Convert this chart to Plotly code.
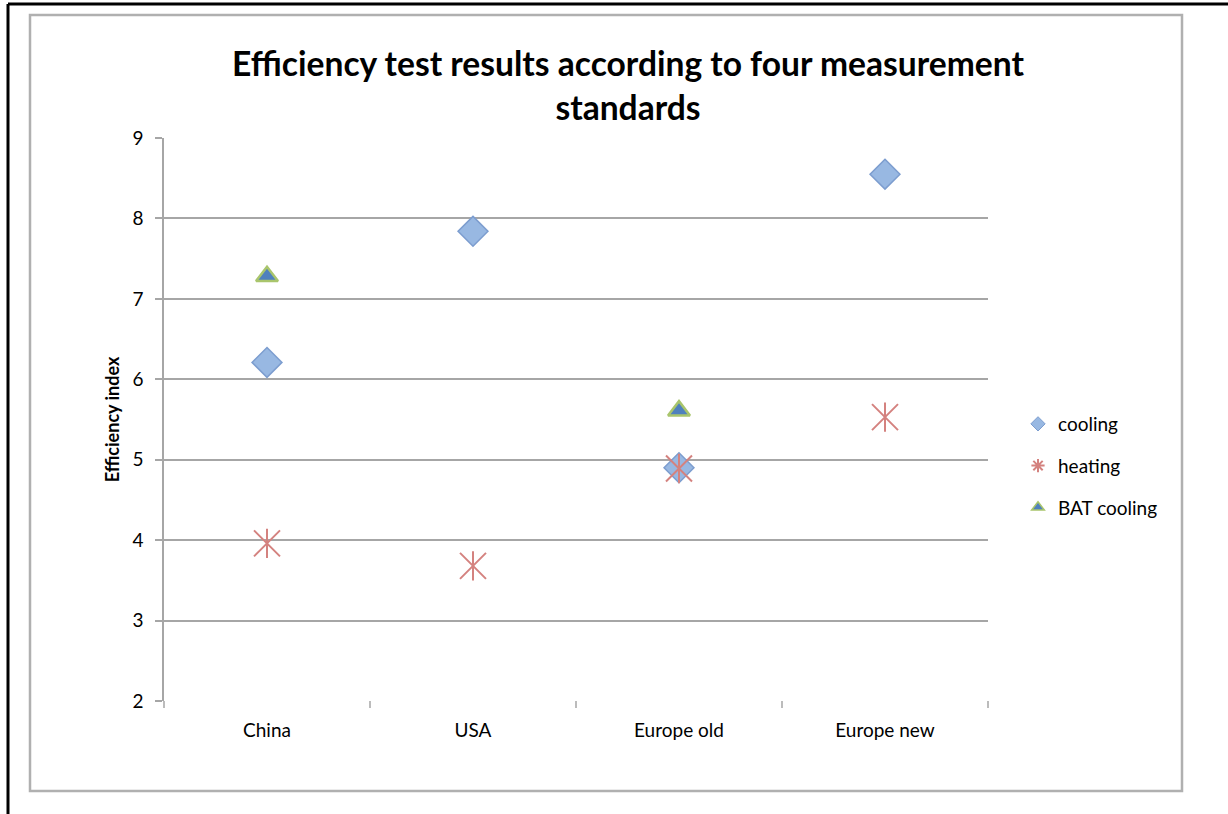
import plotly.graph_objects as go

categories = ["China", "USA", "Europe old", "Europe new"]
cooling = [6.21, 7.84, 4.90, 8.55]
heating = [3.96, 3.68, 4.89, 5.53]
bat_cooling = [7.28, None, 5.61, None]
y_ticks = [2, 3, 4, 5, 6, 7, 8, 9]

W, H = 1228, 814
L, R, T, B = 164, 988, 138, 701
FONT = "Lato"

COOL_FILL, COOL_LINE = "#98b8e2", "#7c9dcf"
HEAT_LINE = "#d4827f"
BAT_FILL, BAT_LINE = "#4f81bd", "#a9c56c"

def px(x):
    return (x - L) / (R - L)

def py(y):
    return (B - y) / (B - T)

fig = go.Figure()
fig.add_trace(go.Scatter(
    x=categories, y=cooling, mode="markers", name="cooling", showlegend=False,
    marker=dict(symbol="diamond", size=23, color=COOL_FILL,
                line=dict(color=COOL_LINE, width=1.5)),
))
fig.add_trace(go.Scatter(
    x=categories, y=heating, mode="markers", name="heating", showlegend=False,
    marker=dict(symbol="x-thin-open", size=26, color=HEAT_LINE,
                line=dict(color=HEAT_LINE, width=2)),
))
fig.add_trace(go.Scatter(
    x=categories, y=heating, mode="markers", name="heating", showlegend=False,
    marker=dict(symbol="line-ns-open", size=21, color=HEAT_LINE,
                line=dict(color=HEAT_LINE, width=2)),
))
fig.add_trace(go.Scatter(
    x=categories, y=bat_cooling, mode="markers", name="BAT cooling", showlegend=False,
    marker=dict(symbol="triangle-up", size=19, color=BAT_FILL,
                line=dict(color=BAT_LINE, width=2.5)),
))
# legend proxies
fig.add_trace(go.Scatter(
    x=[None], y=[None], mode="markers", name="cooling", legendgroup="a",
    marker=dict(symbol="diamond", size=11, color=COOL_FILL,
                line=dict(color=COOL_LINE, width=1)),
))
fig.add_trace(go.Scatter(
    x=[None], y=[None], mode="markers", name="heating", legendgroup="b",
    marker=dict(symbol="asterisk-open", size=11, color=HEAT_LINE,
                line=dict(color=HEAT_LINE, width=2)),
))
fig.add_trace(go.Scatter(
    x=[None], y=[None], mode="markers", name="BAT cooling", legendgroup="c",
    marker=dict(symbol="triangle-up", size=11, color=BAT_FILL,
                line=dict(color=BAT_LINE, width=1.5)),
))

shapes = [
    dict(type="rect", xref="paper", yref="paper",
         x0=px(30), x1=px(1182), y0=py(791), y1=py(15),
         line=dict(color="#b0b0b0", width=2.5), layer="below"),
    dict(type="line", xref="paper", yref="paper",
         x0=px(8), x1=px(1228), y0=py(4), y1=py(4),
         line=dict(color="black", width=3)),
    dict(type="line", xref="paper", yref="paper",
         x0=px(8), x1=px(8), y0=py(4), y1=py(814),
         line=dict(color="black", width=3)),
]
for i in range(len(categories) + 1):
    xb = L + i * (R - L) / len(categories)
    shapes.append(dict(type="line", xref="paper", yref="paper",
                       x0=px(xb), x1=px(xb), y0=0, y1=py(B + 7),
                       line=dict(color="#a6a6a6", width=1.5)))

fig.update_layout(
    width=W, height=H,
    margin=dict(l=L, r=W - R, t=T, b=H - B),
    paper_bgcolor="white", plot_bgcolor="white",
    font=dict(family=FONT, color="#000000"),
    title=dict(text="<b>Efficiency test results according to four measurement<br>standards</b>",
               x=px(628), xref="paper", xanchor="center",
               y=1 - 76 / H, yanchor="middle",
               font=dict(size=33.6, family=FONT, color="black")),
    xaxis=dict(type="category", range=[-0.5, 3.5], showgrid=False,
               showline=False, zeroline=False, ticks="",
               tickfont=dict(size=19, family=FONT, color="#000"),
               ticklabelstandoff=16),
    yaxis=dict(range=[2, 9], tickvals=y_ticks, showgrid=True,
               gridcolor="#a6a6a6", gridwidth=1.5,
               showline=True, linecolor="#a6a6a6", linewidth=1.5,
               ticks="outside", ticklen=7, tickcolor="#a6a6a6", tickwidth=1.5,
               zeroline=False, ticklabelstandoff=8,
               tickfont=dict(size=19, family=FONT, color="#000"),
               title=dict(text="<b>Efficiency index</b>", standoff=8,
                          font=dict(size=18, family=FONT, color="#000"))),
    legend=dict(x=px(1018), y=py(405), xanchor="left", yanchor="top",
                font=dict(size=19, family=FONT, color="#000"),
                itemwidth=30, tracegroupgap=14, bgcolor="rgba(0,0,0,0)"),
    shapes=shapes,
)

fig.write_html("out.html", config={"displayModeBar": False},
               post_script="document.body.style.margin='0';")
